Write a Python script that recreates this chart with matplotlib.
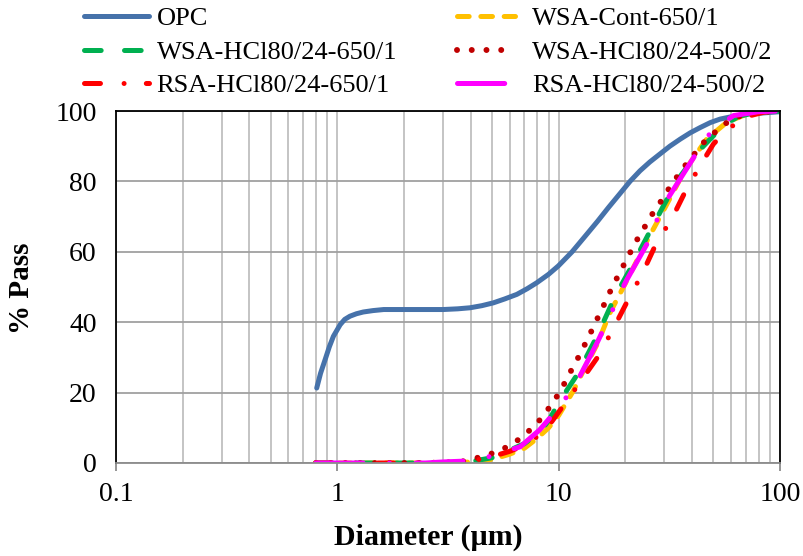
import matplotlib
matplotlib.use("Agg")
import matplotlib.pyplot as plt
from matplotlib.ticker import LogLocator, FixedLocator, NullFormatter, FixedFormatter

# Particle size distributions
opc_d = [0.807, 0.84, 0.88, 0.92, 0.96, 1.03, 1.08, 1.14, 1.22, 1.31, 1.45, 1.62,
         2.13, 3.01, 3.5, 3.98, 4.5, 5.07, 5.7, 6.47, 7.2, 7.96, 9.0, 9.97, 11.5,
         13.2, 15.0, 16.8, 18.9, 21.0, 23.3, 25.8, 28.7, 31.8, 35.4, 39.3, 43.6,
         48.4, 53.6, 61.6, 70.8, 82.0, 100.0]
opc_p = [21.3, 25.5, 29.3, 33.0, 36.0, 39.3, 40.8, 41.7, 42.4, 42.9, 43.3, 43.6,
         43.6, 43.6, 43.8, 44.1, 44.7, 45.5, 46.6, 47.9, 49.5, 51.2, 53.6, 56.0, 60.0,
         64.5, 68.7, 72.6, 76.5, 80.0, 83.0, 85.5, 87.8, 90.0, 92.0, 93.8, 95.3,
         96.7, 97.7, 98.5, 99.1, 99.4, 99.8]

wsa_cont_d = [0.8, 1.5, 2.5, 3.5, 4.0, 5.0, 6.0, 7.0, 8.0, 9.0, 10.0, 11.6, 13.0,
              15.0, 17.0, 20.0, 25.0, 30.5, 37.0, 46.6, 57.5, 70.0, 85.0, 100.0]
wsa_cont_p = [0.0, 0.0, 0.0, 0.1, 0.3, 1.0, 2.5, 4.2, 7.0, 10.0, 13.5, 20.3, 26.5,
              34.0, 42.5, 51.0, 63.0, 73.0, 83.0, 92.0, 96.8, 99.0, 99.8, 100.0]

wsa_650_d = [0.8, 1.5, 2.5, 3.5, 4.0, 5.0, 5.8, 7.0, 8.25, 9.0, 10.3, 12.1, 14.9,
             18.0, 21.0, 25.9, 30.0, 35.0, 43.5, 55.3, 65.0, 80.0, 100.0]
wsa_650_p = [0.0, 0.0, 0.0, 0.1, 0.4, 1.5, 3.2, 5.5, 8.9, 12.0, 18.4, 25.0, 36.0,
             47.4, 55.0, 65.9, 73.5, 81.0, 89.0, 95.8, 98.5, 99.7, 100.0]

wsa_500_d = [0.8, 1.5, 2.5, 3.6, 4.2, 4.8, 5.5, 6.3, 7.1, 7.95, 8.7, 9.5, 10.3, 11.0,
             11.9, 12.7, 13.5, 14.5, 15.4, 16.4, 17.5, 18.8, 20.1, 21.5, 23.1, 25.0,
             27.0, 29.4, 31.8, 34.7, 38.0, 45.7, 51.8, 57.5, 66.0, 80.0, 100.0]
wsa_500_p = [0.0, 0.0, 0.0, 0.3, 1.3, 2.3, 3.7, 5.7, 8.3, 11.1, 14.2, 17.5, 21.0, 24.5,
             28.5, 31.7, 35.3, 39.1, 42.8, 46.2, 50.2, 53.8, 57.4, 60.9, 64.5, 68.0,
             71.6, 74.9, 78.4, 81.8, 85.2, 91.4, 94.4, 96.7, 98.6, 99.7, 100.0]

rsa_650_d = [0.8, 1.5, 2.5, 3.5, 4.0, 5.0, 6.0, 7.0, 8.0, 9.0, 9.8, 12.1, 14.9, 17.4,
             21.0, 23.7, 27.7, 32.4, 37.8, 44.4, 50.0, 56.0, 68.4, 85.0, 100.0]
rsa_650_p = [0.0, 0.0, 0.0, 0.2, 0.5, 1.8, 3.3, 5.0, 7.5, 10.5, 13.7, 21.7, 29.8, 37.4,
             47.4, 53.4, 62.6, 69.3, 77.8, 85.3, 90.6, 93.9, 98.2, 99.7, 100.0]

rsa_500_d = [0.8, 1.5, 2.5, 3.0, 4.0, 5.0, 5.4, 6.7, 8.2, 10.0, 11.9, 14.9, 17.1,
             19.3, 20.3, 25.0, 27.7, 31.3, 42.1, 49.2, 61.7, 80.0, 100.0]
rsa_500_p = [0.0, 0.0, 0.0, 0.3, 0.6, 2.0, 2.8, 4.6, 9.4, 15.7, 22.2, 34.1, 42.0,
             49.3, 52.0, 62.1, 68.8, 75.4, 88.2, 94.4, 98.7, 99.8, 100.0]

x_ticks = [0.1, 1, 10, 100]
x_tick_labels = ["0.1", "1", "10", "100"]
y_ticks = [0, 20, 40, 60, 80, 100]

plt.rcParams["font.family"] = ["Liberation Serif", "DejaVu Serif"]
plt.rcParams["lines.scale_dashes"] = False

fig = plt.figure(figsize=(8.04, 5.56), dpi=100)
ax = fig.add_axes([116 / 804, 93 / 556, 664 / 804, 352 / 556])

lw = 3.6
common = dict(linewidth=lw, dash_capstyle="round", solid_capstyle="round")

l_opc, = ax.plot(opc_d, opc_p, color="#4672AA", label="OPC", **common)
l_cont, = ax.plot(wsa_cont_d, wsa_cont_p, color="#FFC000", dashes=(8.4, 8.4),
                  label="WSA-Cont-650/1", **common)
l_w650, = ax.plot(wsa_650_d, wsa_650_p, color="#00B050", dashes=(12.0, 16.8),
                  label="WSA-HCl80/24-650/1", **common)
l_w500, = ax.plot(wsa_500_d, wsa_500_p, color="#C00000", dashes=(0.01, 10.6),
                  label="WSA-HCl80/24-500/2", linewidth=4.3, dash_capstyle="round")
l_r650, = ax.plot(rsa_650_d, rsa_650_p, color="#FF0000", dashes=(11.5, 17.0, 0.01, 16.0),
                  label="RSA-HCl80/24-650/1", **common)
l_r500, = ax.plot(rsa_500_d, rsa_500_p, color="#FF00FF", dashes=(34.0, 19.0, 0.01, 19.0),
                  label="RSA-HCl80/24-500/2", **common)

ax.set_xscale("log")
ax.set_xlim(0.1, 100)
ax.set_ylim(0, 100)

ax.xaxis.set_major_locator(FixedLocator(x_ticks))
ax.xaxis.set_major_formatter(FixedFormatter(x_tick_labels))
ax.xaxis.set_minor_locator(LogLocator(base=10, subs=range(2, 10)))
ax.xaxis.set_minor_formatter(NullFormatter())
ax.set_yticks(y_ticks)

ax.grid(True, which="both", axis="x", color="#BFBFBF", linewidth=1.3)
ax.grid(True, which="major", axis="y", color="#A0A0A0", linewidth=1.3)
ax.set_axisbelow(True)

for side in ["left", "top", "right"]:
    ax.spines[side].set_color("black")
    ax.spines[side].set_linewidth(1.3)
ax.spines["bottom"].set_color("#8C8C8C")
ax.spines["bottom"].set_linewidth(1.3)

ax.tick_params(axis="x", which="major", direction="out", length=6, width=1.3,
               color="#8C8C8C", labelsize=20, pad=8)
ax.tick_params(axis="x", which="minor", length=0)
ax.tick_params(axis="y", length=0, labelsize=20, pad=14)

fig.text(22 / 804, 1 - 288 / 556, "% Pass", rotation=90, ha="center", va="center",
         fontsize=21, fontweight="bold")
fig.text(428 / 804, 1 - 537 / 556, "Diameter (\u00b5m)", ha="center", va="center",
         fontsize=21.5, fontweight="bold")

# Excel-like legend: two separate columns with their own handle lengths
leg_kw = dict(loc="upper left", frameon=False, fontsize=19, labelspacing=0.38,
              borderpad=0.0, borderaxespad=0.0)
col1 = [l_opc, l_w650, l_r650]
col2 = [l_cont, l_w500, l_r500]
leg1 = fig.legend(handles=col1, labels=[h.get_label() for h in col1],
                  bbox_to_anchor=(84.5 / 804, 1 - 7 / 556), handlelength=2.46,
                  handletextpad=0.27, **leg_kw)
leg2 = fig.legend(handles=col2, labels=[h.get_label() for h in col2],
                  bbox_to_anchor=(457.5 / 804, 1 - 7 / 556), handlelength=2.16,
                  handletextpad=0.66, **leg_kw)

fig.savefig("out.png", dpi=100)
